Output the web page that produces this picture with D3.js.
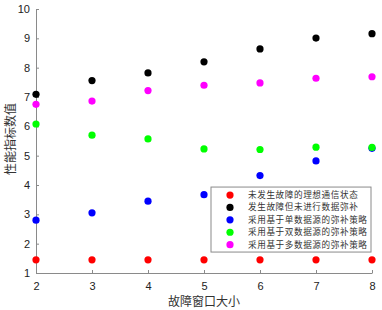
<!DOCTYPE html>
<html>
<head>
<meta charset="utf-8">
<script src="https://cdn.jsdelivr.net/npm/d3@7"></script>
<style>
    body { margin: 0; background: #fff; }
    .axis path, .axis line { stroke: #8a8a8a; }
    .axis text { font-family: "Liberation Sans", Arial, sans-serif; font-size: 11px; fill: #222; }
    .label { font-family: "Noto Sans CJK SC", sans-serif; font-size: 12px; fill: #333; }
    .legend text { font-family: "Noto Sans CJK SC", sans-serif; font-size: 8.6px; letter-spacing: 0.6px; fill: #333; }
</style>
</head>
<body>
<svg width="382" height="310"></svg>
<script>
var margin = { top: 9, right: 10, bottom: 37, left: 36 }
    , width = 382 - margin.left - margin.right
    , height = 310 - margin.top - margin.bottom;

// window sizes
var windowSizes = [2, 3, 4, 5, 6, 7, 8];

// series values
var ideal = [1.45, 1.45, 1.45, 1.45, 1.45, 1.45, 1.45];
var noCompensation = [7.09, 7.56, 7.82, 8.2, 8.64, 9.01, 9.16];
var singleSource = [2.8, 3.05, 3.45, 3.67, 4.32, 4.82, 5.25];
var dualSource = [6.08, 5.7, 5.57, 5.23, 5.21, 5.29, 5.28];
var multiSource = [6.75, 6.86, 7.22, 7.4, 7.48, 7.64, 7.69];

var seriesNames = ["未发生故障的理想通信状态", "发生故障但未进行数据弥补", "采用基于单数据源的弥补策略",
    "采用基于双数据源的弥补策略", "采用基于多数据源的弥补策略"];
var seriesColors = ["#ff0000", "#000000", "#0000ff", "#00ff00", "#ff00ff"];

var yTicks = [1, 2, 3, 4, 5, 6, 7, 8, 9, 10];

var series = [ideal, noCompensation, singleSource, dualSource, multiSource];

var x = d3.scaleLinear().domain([2, 8]).range([0, width]);
var y = d3.scaleLinear().domain([1, 10]).range([height, 0]);

var svg = d3.select("svg")
    .append("g")
    .attr("transform", "translate(" + margin.left + "," + margin.top + ")");

// axes, ticks point inward like matlab
svg.append("g")
    .attr("class", "axis")
    .attr("transform", "translate(0," + height + ")")
    .call(d3.axisBottom(x).tickValues(windowSizes).tickFormat(d3.format("d"))
        .tickSizeInner(-3).tickSizeOuter(0).tickPadding(7))
    .selectAll("text").attr("dy", "0.9em");

svg.append("g")
    .attr("class", "axis")
    .call(d3.axisLeft(y).tickValues(yTicks).tickFormat(d3.format("d"))
        .tickSizeInner(-3).tickSizeOuter(0).tickPadding(6));

// points
series.forEach(function (values, i) {
    svg.append("g")
        .selectAll("circle")
        .data(values)
        .enter()
        .append("circle")
        .attr("cx", function (d, j) { return x(windowSizes[j]); })
        .attr("cy", function (d) { return y(d); })
        .attr("r", 3.6)
        .attr("fill", seriesColors[i]);
});

// axis labels
svg.append("text")
    .attr("class", "label")
    .attr("x", width / 2)
    .attr("y", height + 33)
    .attr("text-anchor", "middle")
    .text("故障窗口大小");

svg.append("text")
    .attr("class", "label")
    .attr("transform", "translate(" + (-21) + "," + (y(5.5) - 2) + ") rotate(-90)")
    .attr("text-anchor", "middle")
    .text("性能指标数值");

// legend
var legend = svg.append("g")
    .attr("class", "legend")
    .attr("transform", "translate(" + (width - 161) + "," + (y(3.93)) + ")");

legend.append("rect")
    .attr("width", 160)
    .attr("height", 65)
    .attr("fill", "#fff")
    .attr("stroke", "#8a8a8a");

seriesNames.forEach(function (name, i) {
    var row = legend.append("g").attr("transform", "translate(0," + (8 + i * 12.4) + ")");
    row.append("circle")
        .attr("cx", 19)
        .attr("cy", 0)
        .attr("r", 3.6)
        .attr("fill", seriesColors[i]);
    row.append("text")
        .attr("x", 37)
        .attr("y", 0)
        .attr("dy", "0.35em")
        .text(name);
});
</script>
</body>
</html>
